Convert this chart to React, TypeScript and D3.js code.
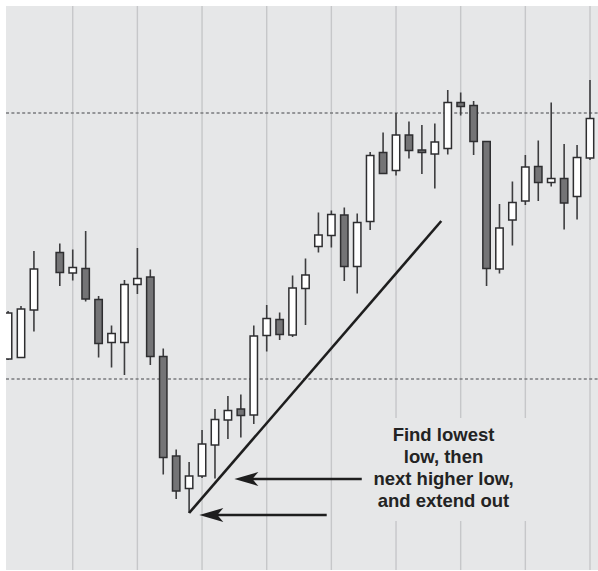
import React from "react";
import * as d3 from "d3";

// OHLC data (index 3 is a missing session)
const opens: (number | null)[] = [42.2, 42.5, 52.0, null, 63.5, 59.4, 60.3, 54.1, 45.5, 45.5, 57.1, 58.6, 42.7, 22.8, 16.3, 18.8, 25.0, 30.0, 32.2, 31.0, 46.9, 50.1, 47.0, 56.3, 64.7, 66.9, 71.0, 60.7, 69.7, 83.5, 79.9, 87.0, 84.0, 83.2, 84.3, 93.5, 92.9, 85.7, 60.2, 70.0, 73.8, 80.7, 77.5, 78.3, 74.7, 82.4];
const closes: (number | null)[] = [51.4, 52.2, 60.2, null, 59.5, 60.5, 54.2, 45.3, 47.3, 57.1, 58.3, 42.7, 22.5, 15.8, 18.8, 25.2, 30.1, 31.9, 30.9, 46.8, 50.3, 47.1, 56.4, 59.0, 67.0, 71.1, 60.7, 69.5, 82.9, 79.3, 87.0, 83.9, 83.5, 85.6, 93.5, 92.7, 85.7, 60.3, 68.4, 73.5, 80.6, 77.5, 78.3, 73.4, 82.5, 90.3];
const highs: (number | null)[] = [51.8, 52.8, 63.8, null, 65.3, 64.1, 67.8, 54.8, 48.9, 58.0, 64.4, 60.1, 44.3, 24.1, 21.6, 28.0, 32.2, 34.8, 35.1, 48.9, 53.0, 51.5, 58.9, 62.3, 71.5, 71.9, 72.5, 71.3, 83.6, 87.5, 91.4, 89.7, 89.0, 89.3, 96.0, 95.5, 93.8, 85.7, 73.2, 77.7, 83.0, 85.9, 93.5, 85.2, 85.0, 98.0];
const lows: (number | null)[] = [42.0, 42.4, 47.7, null, 56.8, 57.9, 53.7, 42.5, 40.5, 39.0, 55.2, 41.0, 19.1, 14.2, 11.4, 18.4, 18.3, 26.2, 26.5, 29.2, 43.7, 46.0, 46.6, 49.0, 63.5, 64.5, 57.8, 55.3, 68.0, 79.2, 78.9, 82.3, 79.2, 76.3, 83.1, 90.9, 83.0, 56.8, 59.3, 64.9, 73.0, 73.8, 76.7, 68.1, 70.1, 82.0];

const gridIndices = [5, 10, 15, 20, 25, 30, 35, 40, 45];
const dashedLevels = [91.4, 38.2];

// trendline: from lowest low, through next higher low, extended
const trendFrom = { i: 14, p: 11.4 };
const trendTo = { i: 33.5, p: 69.8 };

const arrows = [
  { tipI: 14.79, tailI: 24.64, p: 11.0 },
  { tipI: 17.5, tailI: 27.35, p: 18.2 },
];

const noteLines = ["Find lowest", "low, then", "next higher low,", "and extend out"];

const W = 598;
const H = 571;
const plot = { x0: 6, y0: 6, x1: 598, y1: 570 };

export default function App() {
  const x = d3.scaleLinear().domain([0, 45]).range([8.07, 590]);
  const y = d3.scaleLinear().domain([0, 114]).range([570, 0]);
  const bodyW = 7.4;

  const candles = opens
    .map((o, i) => ({ i, o, c: closes[i], h: highs[i], l: lows[i] }))
    .filter((d) => d.o !== null);

  const trendLine = d3.line<{ i: number; p: number }>()
    .x((d) => x(d.i))
    .y((d) => y(d.p));

  const arrowHead = (tx: number, ty: number) =>
    `M${tx},${ty} L${tx + 24},${ty - 7} L${tx + 18},${ty} L${tx + 24},${ty + 7} Z`;

  const noteCx = 443.5;
  const noteBase = 441;
  const noteStep = 22.1;

  return (
    <svg
      width={W}
      height={H}
      style={{ position: "absolute", left: 0, top: 0, background: "#ffffff" }}
    >
      <defs>
        <clipPath id="plotClip">
          <rect x={plot.x0} y={plot.y0} width={plot.x1 - plot.x0} height={plot.y1 - plot.y0} />
        </clipPath>
      </defs>
      <rect x={plot.x0} y={plot.y0} width={plot.x1 - plot.x0} height={plot.y1 - plot.y0} fill="#e6e7e8" />
      <g clipPath="url(#plotClip)">
        {gridIndices.map((g) => (
          <line key={g} x1={x(g)} x2={x(g)} y1={plot.y0} y2={plot.y1} stroke="#c6c7c9" strokeWidth={1.4} />
        ))}
        {dashedLevels.map((lv) => (
          <line
            key={lv}
            x1={plot.x0}
            x2={plot.x1}
            y1={y(lv)}
            y2={y(lv)}
            stroke="#7a7b7d"
            strokeWidth={1.6}
            strokeDasharray="3,2.4"
          />
        ))}
        {/* background patch behind the annotation text */}
        <rect x={352} y={418} width={180} height={103} fill="#e6e7e8" />
        {candles.map((d) => {
          const up = (d.c as number) >= (d.o as number);
          const top = y(Math.max(d.o as number, d.c as number));
          const bot = y(Math.min(d.o as number, d.c as number));
          const cx = x(d.i);
          return (
            <g key={d.i}>
              <line x1={cx} x2={cx} y1={y(d.h as number)} y2={y(d.l as number)} stroke="#3d3d3f" strokeWidth={1.6} />
              <rect
                x={cx - bodyW / 2}
                y={top}
                width={bodyW}
                height={Math.max(bot - top, 2.5)}
                fill={up ? "#ffffff" : "#747476"}
                stroke="#2e2e30"
                strokeWidth={1.5}
              />
            </g>
          );
        })}
        <path d={trendLine([trendFrom, trendTo]) as string} stroke="#1e1e1e" strokeWidth={2.6} fill="none" />
        {arrows.map((a, k) => (
          <g key={k}>
            <line x1={x(a.tipI) + 12} x2={x(a.tailI)} y1={y(a.p)} y2={y(a.p)} stroke="#1e1e1e" strokeWidth={2.4} />
            <path d={arrowHead(x(a.tipI), y(a.p))} fill="#1e1e1e" />
          </g>
        ))}
        <text
          fontFamily="'Liberation Sans', Arial, Helvetica, sans-serif"
          fontWeight="bold"
          fontSize={18.5}
          fill="#232323"
          textAnchor="middle"
        >
          {noteLines.map((t, k) => (
            <tspan key={k} x={noteCx} y={noteBase + k * noteStep}>
              {t}
            </tspan>
          ))}
        </text>
      </g>
    </svg>
  );
}
